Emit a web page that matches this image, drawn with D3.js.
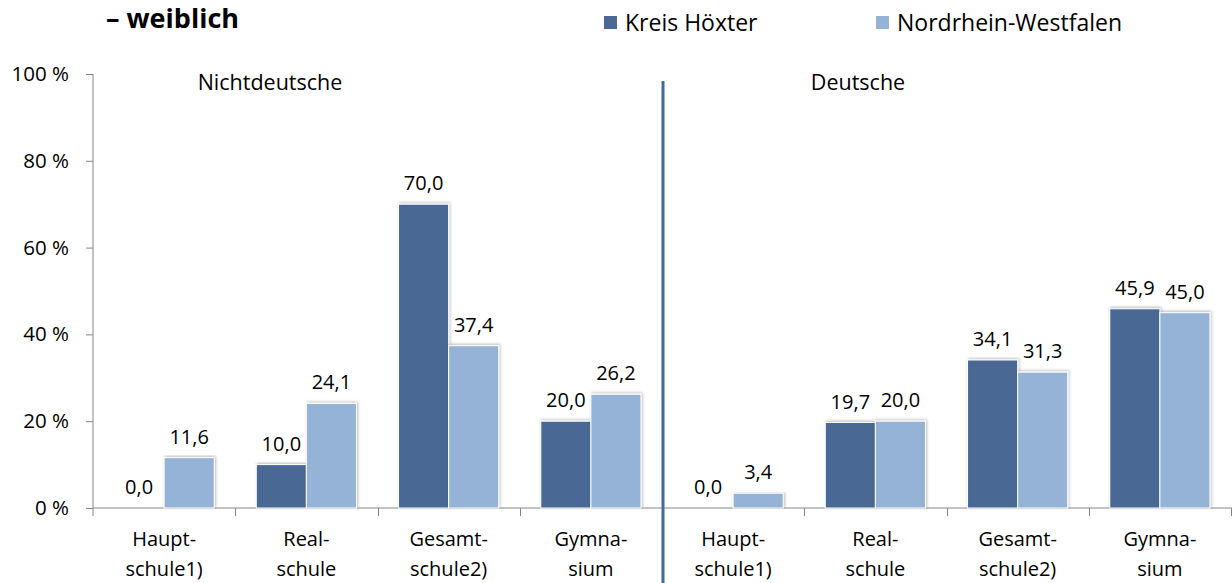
<!DOCTYPE html>
<html>
<head>
<meta charset="utf-8">
<script src="https://cdn.jsdelivr.net/npm/d3@7"></script>
<style>
  body { margin: 0; background: #fff; }
  text { font-family: "Open Sans", "Noto Sans", sans-serif; fill: #000; }
</style>
</head>
<body>
<div id="chart"></div>
<script>
// data
const groups = ["Nichtdeutsche", "Deutsche"];
const catLine1 = ["Haupt-", "Real-", "Gesamt-", "Gymna-", "Haupt-", "Real-", "Gesamt-", "Gymna-"];
const catLine2 = ["schule1)", "schule", "schule2)", "sium", "schule1)", "schule", "schule2)", "sium"];
const seriesNames = ["Kreis Höxter", "Nordrhein-Westfalen"];
const kreis = [0.0, 10.0, 70.0, 20.0, 0.0, 19.7, 34.1, 45.9];
const nrw = [11.6, 24.1, 37.4, 26.2, 3.4, 20.0, 31.3, 45.0];
const yTicks = [0, 20, 40, 60, 80, 100];

const colors = ["#4a6994", "#95b3d7"];
const width = 1232, height = 583;
const margin = { top: 74, right: 1, bottom: 75, left: 93 };
const fs = 20;

const svg = d3.select("#chart").append("svg")
    .attr("width", width)
    .attr("height", height);

function label(parent, x, y, str, size, anchor, weight) {
    return parent.append("text")
        .attr("x", x)
        .attr("y", y)
        .attr("text-anchor", anchor || "middle")
        .style("font-size", size + "px")
        .style("font-weight", weight || "normal")
        .text(str);
}

const defs = svg.append("defs");
const f = defs.append("filter").attr("id", "shadow")
    .attr("x", "-20%").attr("y", "-5%").attr("width", "140%").attr("height", "110%");
f.append("feDropShadow")
    .attr("dx", 1).attr("dy", -1).attr("stdDeviation", 1.6)
    .attr("flood-color", "#000").attr("flood-opacity", 0.28);

const x = d3.scaleBand()
    .domain(d3.range(kreis.length))
    .range([margin.left, width - margin.right])
    .paddingInner(0).paddingOuter(0);

const x1 = d3.scaleBand()
    .domain([0, 1])
    .range([0, x.bandwidth()])
    .paddingInner(0).paddingOuter(0.42);

const y = d3.scaleLinear()
    .domain([0, 100])
    .range([height - margin.bottom, margin.top]);

const fmt = v => d3.format(".1f")(v).replace(".", ",");

// title fragment
label(svg, 106, 28, "– weiblich", 27, "start", "bold");

// legend
const legend = svg.append("g");
const legX = [604, 876];
seriesNames.forEach((s, i) => {
    legend.append("rect")
        .attr("x", legX[i]).attr("y", 16)
        .attr("width", 13).attr("height", 13)
        .attr("fill", colors[i]);
    label(legend, legX[i] + 21, 31, s, 23, "start");
});

// y axis
const yAxis = svg.append("g")
    .attr("transform", "translate(" + margin.left + ",0)")
    .call(d3.axisLeft(y).tickValues(yTicks).tickSize(7).tickFormat(""));
yAxis.select(".domain").remove();
yAxis.selectAll("line").attr("stroke", "#868686");
svg.append("line")
    .attr("x1", margin.left).attr("x2", margin.left)
    .attr("y1", y(100)).attr("y2", y(0) + 8)
    .attr("stroke", "#868686");
yTicks.forEach(t => {
    label(svg, 69, y(t) + 7, t + " %", fs + 0.5, "end");
});

// x axis
svg.append("line")
    .attr("x1", margin.left).attr("x2", width)
    .attr("y1", y(0)).attr("y2", y(0))
    .attr("stroke", "#868686");
d3.range(1, kreis.length + 1).forEach(i => {
    const xx = Math.round(x(i - 1) + x.bandwidth()) + 0.5;
    svg.append("line")
        .attr("x1", xx).attr("x2", xx)
        .attr("y1", y(0)).attr("y2", y(0) + 8)
        .attr("stroke", "#868686");
});

// bars
const rows = kreis.map((k, i) => ({ i: i, vals: [k, nrw[i]] }));
const g = svg.append("g");
rows.forEach(r => {
    r.vals.forEach((v, s) => {
        if (v > 0) {
            g.append("rect")
                .attr("x", x(r.i) + x1(s))
                .attr("y", y(v))
                .attr("width", x1.bandwidth())
                .attr("height", y(0) - y(v))
                .attr("fill", colors[s])
                .attr("stroke", "#fff")
                .attr("stroke-width", 1)
                .attr("filter", "url(#shadow)");
        }
        label(g, x(r.i) + x1(s) + x1.bandwidth() / 2, y(v) - 14, fmt(v), fs);
    });
    label(svg, x(r.i) + x.bandwidth() / 2, 546, catLine1[r.i], fs);
    label(svg, x(r.i) + x.bandwidth() / 2, 576, catLine2[r.i], fs);
});

// group labels and divider
label(svg, 270, 90, groups[0], 21.5);
label(svg, 858, 90, groups[1], 21.5);
const divX = x(4) + 1;
svg.append("line")
    .attr("x1", divX).attr("x2", divX)
    .attr("y1", 81).attr("y2", height)
    .attr("stroke", "#3f6aa3")
    .attr("stroke-width", 3);
</script>
</body>
</html>
